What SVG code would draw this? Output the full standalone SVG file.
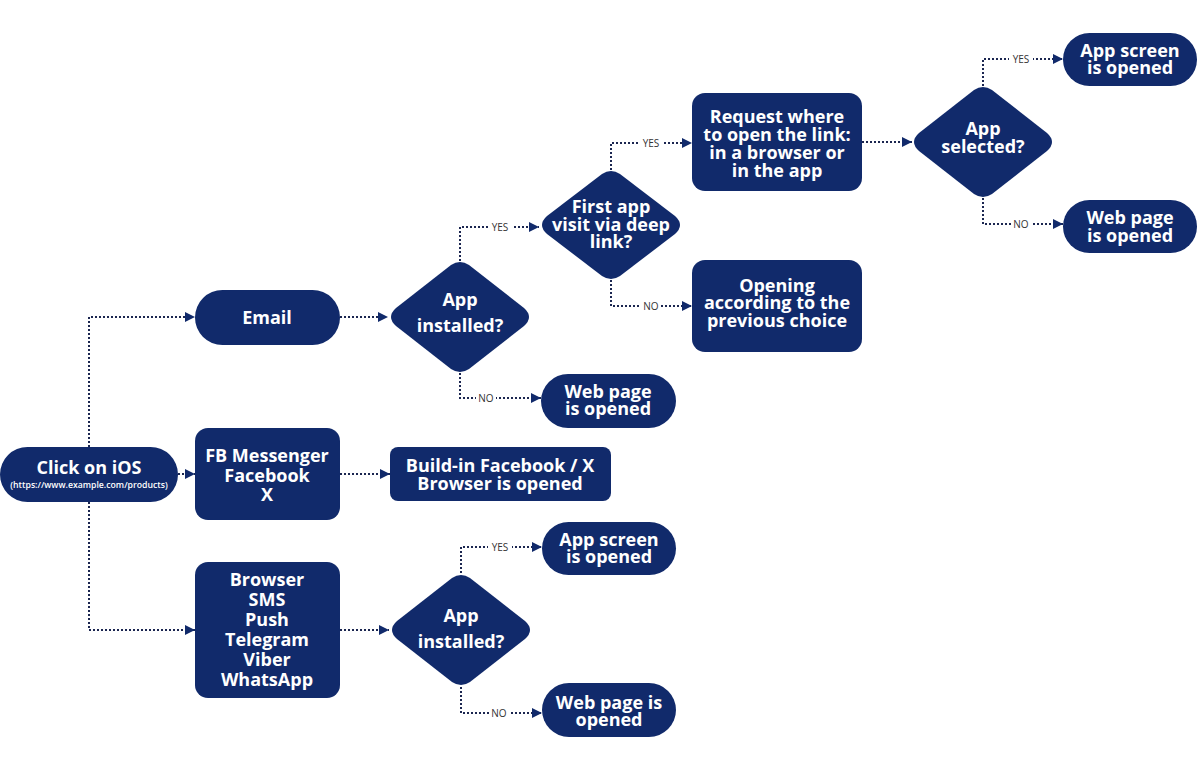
<svg xmlns="http://www.w3.org/2000/svg" width="1197" height="758" viewBox="0 0 1197 758">
<defs>
<style>
.n{fill:#112a6b}
.t{font-family:"Open Sans","Liberation Sans",sans-serif;font-weight:700;font-size:18px;fill:#fff;text-anchor:middle}
.s{font-family:"Open Sans","Liberation Sans",sans-serif;font-weight:600;font-size:8.7px;fill:#fff;text-anchor:middle}
.c{fill:none;stroke:#1b2650;stroke-width:2;stroke-dasharray:2 2}
.l{font-family:"Open Sans","Liberation Sans",sans-serif;font-size:10px;fill:#333;text-anchor:middle}
.lb{fill:#fff}
</style>
<marker id="a" viewBox="0 0 10 10" refX="10" refY="5" markerWidth="10" markerHeight="11" markerUnits="userSpaceOnUse" orient="auto">
<path d="M0,0 L10,5 L0,10 z" fill="#112a6b"/>
</marker>
</defs>
<rect width="1197" height="758" fill="#fff"/>
<g id="connectors">
<path class="c" d="M89,447 V317 H195" marker-end="url(#a)"/>
<path class="c" d="M178,474 H195" marker-end="url(#a)"/>
<path class="c" d="M89,502 V630 H195" marker-end="url(#a)"/>
<path class="c" d="M340,317 H388" marker-end="url(#a)"/>
<path class="c" d="M460,261 V227 H539" marker-end="url(#a)"/>
<path class="c" d="M460,373 V398 H541" marker-end="url(#a)"/>
<path class="c" d="M611,170 V143 H692" marker-end="url(#a)"/>
<path class="c" d="M611,280 V306 H692" marker-end="url(#a)"/>
<path class="c" d="M862,142 H912" marker-end="url(#a)"/>
<path class="c" d="M983,86 V59 H1063" marker-end="url(#a)"/>
<path class="c" d="M983,198 V224 H1063" marker-end="url(#a)"/>
<path class="c" d="M340,474 H390" marker-end="url(#a)"/>
<path class="c" d="M340,630 H389" marker-end="url(#a)"/>
<path class="c" d="M461,573 V547 H542" marker-end="url(#a)"/>
<path class="c" d="M461,687 V713 H542" marker-end="url(#a)"/>
<g>
<rect class="lb" x="488" y="221" width="24" height="12"/><text class="l" x="500" y="231">YES</text>
<rect class="lb" x="476" y="392" width="20" height="12"/><text class="l" x="486" y="402">NO</text>
<rect class="lb" x="639" y="137" width="24" height="12"/><text class="l" x="651" y="147">YES</text>
<rect class="lb" x="641" y="300" width="20" height="12"/><text class="l" x="651" y="310">NO</text>
<rect class="lb" x="1009" y="53" width="24" height="12"/><text class="l" x="1021" y="63">YES</text>
<rect class="lb" x="1011" y="218" width="20" height="12"/><text class="l" x="1021" y="228">NO</text>
<rect class="lb" x="488" y="541" width="24" height="12"/><text class="l" x="500" y="551">YES</text>
<rect class="lb" x="489" y="707" width="20" height="12"/><text class="l" x="499" y="717">NO</text>
</g>
</g>
<g id="click">
<rect class="n" x="0" y="447" width="178" height="55" rx="27.5"/>
<text class="t" x="89" y="474">Click on iOS</text>
<text class="s" x="89" y="488">(https://www.example.com/products)</text>
</g>
<g id="email">
<rect class="n" x="195" y="290" width="145" height="55" rx="27.5"/>
<text class="t" x="267" y="324">Email</text>
</g>
<g id="fb">
<rect class="n" x="195" y="428" width="145" height="92" rx="13"/>
<text class="t" x="267"><tspan x="267" y="462">FB Messenger</tspan><tspan x="267" y="481.5">Facebook</tspan><tspan x="267" y="501">X</tspan></text>
</g>
<g id="buildin">
<rect class="n" x="390" y="447" width="221" height="54" rx="8"/>
<text class="t" x="500"><tspan x="500" y="472">Build-in Facebook / X</tspan><tspan x="500" y="490">Browser is opened</tspan></text>
</g>
<g id="browser">
<rect class="n" x="195" y="562" width="145" height="136" rx="13"/>
<text class="t" x="267"><tspan x="267" y="586">Browser</tspan><tspan x="267" y="606">SMS</tspan><tspan x="267" y="626">Push</tspan><tspan x="267" y="646">Telegram</tspan><tspan x="267" y="666">Viber</tspan><tspan x="267" y="686">WhatsApp</tspan></text>
</g>
<g id="d1">
<path class="n" d="M451,265 Q460,259 469,265 L524,308 Q534,317 524,326 L469,369 Q460,375 451,369 L396,326 Q386,317 396,308 Z"/>
<text class="t" x="460"><tspan x="460" y="306">App</tspan><tspan x="460" y="332">installed?</tspan></text>
</g>
<g id="d2">
<path class="n" d="M602,174 Q611,168 620,174 L675,216 Q685,225 675,234 L620,276 Q611,282 602,276 L547,234 Q537,225 547,216 Z"/>
<text class="t" x="611"><tspan x="611" y="213">First app</tspan><tspan x="611" y="231">visit via deep</tspan><tspan x="611" y="248">link?</tspan></text>
</g>
<g id="webmid">
<rect class="n" x="541" y="374" width="135" height="54" rx="27"/>
<text class="t" x="608"><tspan x="608" y="398">Web page</tspan><tspan x="608" y="415">is opened</tspan></text>
</g>
<g id="request">
<rect class="n" x="692" y="93" width="170" height="98" rx="13"/>
<text class="t" x="777"><tspan x="777" y="123">Request where</tspan><tspan x="777" y="141">to open the link:</tspan><tspan x="777" y="159">in a browser or</tspan><tspan x="777" y="177">in the app</tspan></text>
</g>
<g id="opening">
<rect class="n" x="692" y="260" width="170" height="92" rx="13"/>
<text class="t" x="777"><tspan x="777" y="292">Opening</tspan><tspan x="777" y="309">according to the</tspan><tspan x="777" y="327">previous choice</tspan></text>
</g>
<g id="d3">
<path class="n" d="M974,90 Q983,84 992,90 L1047,133 Q1057,142 1047,151 L992,194 Q983,200 974,194 L919,151 Q909,142 919,133 Z"/>
<text class="t" x="983"><tspan x="983" y="135">App</tspan><tspan x="983" y="153">selected?</tspan></text>
</g>
<g id="appscreen1">
<rect class="n" x="1063" y="33" width="134" height="53" rx="26.5"/>
<text class="t" x="1130"><tspan x="1130" y="57">App screen</tspan><tspan x="1130" y="74">is opened</tspan></text>
</g>
<g id="webtop">
<rect class="n" x="1063" y="200" width="134" height="53" rx="26.5"/>
<text class="t" x="1130"><tspan x="1130" y="224">Web page</tspan><tspan x="1130" y="242">is opened</tspan></text>
</g>
<g id="d4">
<path class="n" d="M452,578 Q461,572 470,578 L525,621 Q535,630 525,639 L470,682 Q461,688 452,682 L397,639 Q387,630 397,621 Z"/>
<text class="t" x="461"><tspan x="461" y="622">App</tspan><tspan x="461" y="648">installed?</tspan></text>
</g>
<g id="appscreen2">
<rect class="n" x="542" y="522" width="134" height="53" rx="26.5"/>
<text class="t" x="609"><tspan x="609" y="546">App screen</tspan><tspan x="609" y="563">is opened</tspan></text>
</g>
<g id="webbottom">
<rect class="n" x="542" y="683" width="134" height="54" rx="27"/>
<text class="t" x="609"><tspan x="609" y="709">Web page is</tspan><tspan x="609" y="726">opened</tspan></text>
</g>
</svg>
